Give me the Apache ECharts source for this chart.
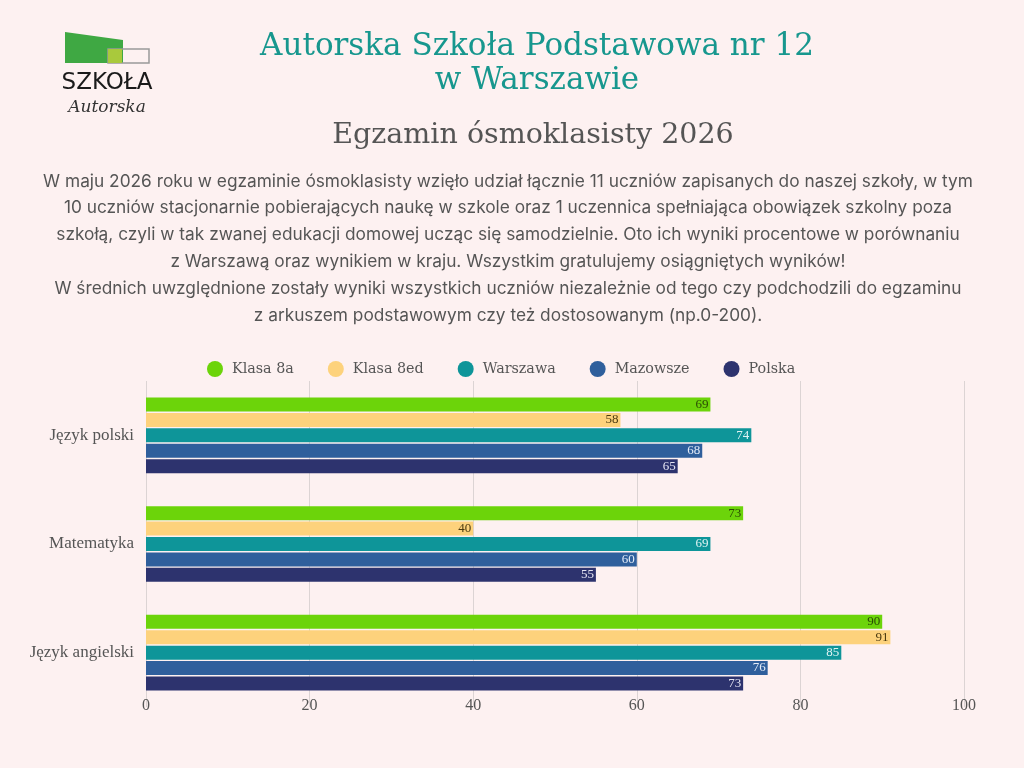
<!DOCTYPE html>
<html>
<head>
<meta charset="utf-8">
<script src="https://cdn.jsdelivr.net/npm/echarts@6/dist/echarts.min.js"></script>
<style>
html,body{margin:0;padding:0;background:#fdf1f1;}
#c{width:1024px;height:768px;}
</style>
</head>
<body>
<div id="c"></div>
<script>
const categories = ['Język polski', 'Matematyka', 'Język angielski'];
const seriesNames = ['Klasa 8a', 'Klasa 8ed', 'Warszawa', 'Mazowsze', 'Polska'];
const klasa8a = [69, 73, 90];
const klasa8ed = [58, 40, 91];
const warszawa = [74, 69, 85];
const mazowsze = [68, 60, 76];
const polska = [65, 55, 73];
const xTicks = [0, 20, 40, 60, 80, 100];

const colors = ['#6cd40a', '#fdd27c', '#0e9599', '#2f5f9c', '#2d336e'];
const labelColors = ['#2a4a05', '#4a3a10', '#dff3f3', '#e3ebf7', '#e4e4f2'];
const values = [klasa8a, klasa8ed, warszawa, mazowsze, polska];

const serif = '"Liberation Serif", "DejaVu Serif", serif';
const wideSerif = '"DejaVu Serif", serif';
const bodyText = [
  'W maju 2026 roku w egzaminie ósmoklasisty wzięło udział łącznie 11 uczniów zapisanych do naszej szkoły, w tym',
  '10 uczniów stacjonarnie pobierających naukę w szkole oraz 1 uczennica spełniająca obowiązek szkolny poza',
  'szkołą, czyli w tak zwanej edukacji domowej ucząc się samodzielnie. Oto ich wyniki procentowe w porównaniu',
  'z Warszawą oraz wynikiem w kraju. Wszystkim gratulujemy osiągniętych wyników!',
  'W średnich uwzględnione zostały wyniki wszystkich uczniów niezależnie od tego czy podchodzili do egzaminu',
  'z arkuszem podstawowym czy też dostosowanym (np.0-200).'
].join('\n');

const chart = echarts.init(document.getElementById('c'));
chart.setOption({
  backgroundColor: '#fdf1f1',
  animation: false,
  title: [
    {text: 'Autorska Szkoła Podstawowa nr 12\nw Warszawie', left: 532, top: 25, textAlign: 'center',
     textStyle: {fontFamily: wideSerif, fontSize: 31, fontWeight: 'normal', color: '#17978e', lineHeight: 34}},
    {text: 'Egzamin ósmoklasisty 2026', left: 528, top: 116, textAlign: 'center',
     textStyle: {fontFamily: wideSerif, fontSize: 28.5, fontWeight: 'normal', color: '#555'}},
    {text: bodyText, left: 503, top: 163, textAlign: 'center',
     textStyle: {fontFamily: 'Inter, "Noto Sans", sans-serif', fontSize: 17.3, fontWeight: 'normal', color: '#555', lineHeight: 26.8, align: 'center'}}
  ],
  graphic: [
    {type: 'polygon', shape: {points: [[65, 32], [123, 40], [123, 63], [65, 63]]}, style: {fill: '#3fa843'}},
    {type: 'rect', shape: {x: 108, y: 49, width: 41, height: 14}, style: {fill: 'none', stroke: '#999', lineWidth: 1.5}},
    {type: 'rect', shape: {x: 108, y: 49, width: 14, height: 14}, style: {fill: '#a9c93c'}},
    {type: 'text', x: 107, y: 83, style: {text: 'SZKOŁA', fill: '#1a1a1a', font: '23px "DejaVu Sans", sans-serif', align: 'center', verticalAlign: 'middle'}},
    {type: 'text', x: 107, y: 108, style: {text: 'Autorska', fill: '#333', font: 'italic 17px "DejaVu Serif", serif', align: 'center', verticalAlign: 'middle'}}
  ],
  legend: {
    top: 356, left: 202, itemWidth: 16, itemHeight: 16, itemGap: 34, icon: 'circle',
    data: seriesNames,
    textStyle: {fontFamily: wideSerif, fontSize: 14.3, color: '#555', padding: [0, 0, 0, 4]}
  },
  grid: {left: 146, right: 60, top: 381, bottom: 61},
  xAxis: {
    type: 'value', min: 0, max: 100, interval: 20,
    axisLine: {show: false}, axisTick: {show: false},
    splitLine: {lineStyle: {color: '#dcd4d4', width: 1}},
    axisLabel: {margin: -9, fontFamily: serif, fontSize: 16, color: '#555',
      formatter: v => xTicks.includes(v) ? String(v) : ''}
  },
  yAxis: {
    type: 'category', data: categories, inverse: true,
    axisLine: {show: false}, axisTick: {show: false},
    axisLabel: {margin: 12, fontFamily: serif, fontSize: 17, color: '#555'}
  },
  series: seriesNames.map((name, i) => ({
    name: name, type: 'bar', data: values[i], barWidth: 14, barGap: '10%',
    itemStyle: {color: colors[i]},
    label: {show: true, position: 'insideRight', distance: 2, fontFamily: serif, fontSize: 13, color: labelColors[i]}
  }))
});
</script>
</body>
</html>
